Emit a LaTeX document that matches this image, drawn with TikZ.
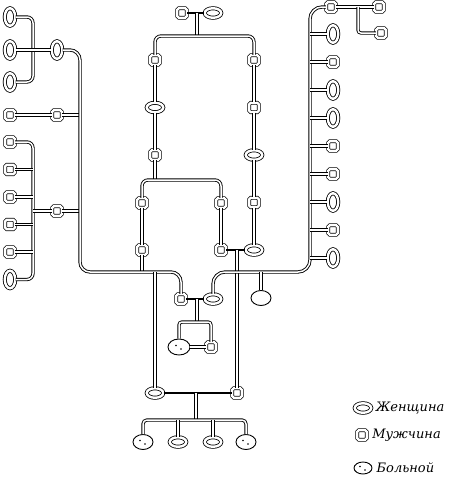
\documentclass[tikz,border=0pt]{standalone}
\usepackage{fontspec}
\setmainfont{DejaVu Serif}
\usepackage{tikz}
\usetikzlibrary{shapes,positioning}
\tikzstyle{link} = [draw, line width=0.9pt, double, double distance=1.5pt, rounded corners=6pt]
\tikzstyle{marriage} = [line width=2.6pt]
\tikzstyle{man} = [rectangle, rounded corners=1.5pt, draw, line width=0.8pt, double, double distance=2.2pt, minimum size=9.5pt, inner sep=0pt]
\tikzstyle{woman} = [ellipse, draw, line width=0.8pt, double, double distance=2.4pt, minimum width=16.5pt, minimum height=9.5pt, inner sep=0pt]
\tikzstyle{womanup} = [woman, minimum width=10.5pt, minimum height=17.5pt]
\tikzstyle{oval} = [ellipse, draw, line width=0.9pt, minimum width=20pt, minimum height=15pt, inner sep=0pt]
\tikzstyle{sick} = [oval, path picture={\fill (path picture bounding box.center) +(-3pt,1.5pt) circle (0.9pt) +(2pt,-2pt) circle (0.9pt);}]
\tikzstyle{legend} = [font=\fontsize{13}{15}\selectfont\itshape, inner sep=0pt]

\begin{document}
\begin{tikzpicture}[x=1pt, y=-1pt, node distance=28pt]
\useasboundingbox (0,0) rectangle (450,477);
% Left family
\node (lw1) [womanup] at (10,17) {};
\node (lw2) [womanup] at (10,50) {};
\node (lw3) [womanup] at (10,82) {};
\node (lwa) [womanup] at (57,50) {};
\node (lm1) [man] at (10,115) {};
\node (lma) [man] at (57,115) {};
\node (lm2) [man] at (10,142) {};
\node (lm3) [man, below of=lm2, node distance=27.5pt] {};
\node (lm4) [man, below of=lm3, node distance=27.5pt] {};
\node (lm5) [man, below of=lm4, node distance=27.5pt] {};
\node (lm6) [man, below of=lm5, node distance=27.5pt] {};
\node (lw4) [womanup, below of=lm6, node distance=27.5pt] {};
\node (lmb) [man] at (57,211) {};
\coordinate (j1) at (33,50);
\coordinate (j2) at (80,115);
\coordinate (j3) at (33,211);
\coordinate (j4) at (80,211);
\coordinate (lc) at (80,272);

\draw[link] (lw1) -| (j1) |- (lw3);
\draw[link] (lw2) -- (lwa);
\draw[link] (lm1) -- (lma) -- (j2);
\draw[link] (lm2) -| (j3) |- (lw4);
\draw[link] (lm3) -- (lm3 -| j3);
\draw[link] (lm4) -- (lm4 -| j3);
\draw[link] (lm5) -- (lm5 -| j3);
\draw[link] (lm6) -- (lm6 -| j3);
\draw[link] (j3) -- (lmb) -- (j4);

% Top couple and two lines of descent
\node (tm) [man] at (182,13) {};
\node (tw) [woman] at (213,13) {};
\coordinate (tj) at (197,13);
\coordinate (tk) at (197,36);
\node (a1) [man] at (155,60) {};
\node (a2) [woman, below of=a1, node distance=47.5pt] {};
\node (a3) [man, below of=a2, node distance=47.5pt] {};
\node (b1) [man] at (254,60) {};
\node (b2) [man, below of=b1, node distance=47.5pt] {};
\node (b3) [woman, below of=b2, node distance=47.5pt] {};
\node (b4) [man, below of=b3, node distance=47.5pt] {};
\node (b5) [woman, below of=b4, node distance=47.5pt] {};
\coordinate (ak) at (155,180);
\node (c1) [man] at (142,203) {};
\node (c2) [man] at (142,250) {};
\node (d1) [man] at (221,203) {};
\node (d2) [man] at (221,250) {};
\coordinate (dj) at (237,250);

\draw[marriage] (tm) -- (tw);
\draw[link] (tj) -- (tk);
\draw[link] (a1) |- (tk) -| (b1);
\draw[link] (a1) -- (a2) -- (a3);
\draw[link] (b1) -- (b2) -- (b3) -- (b4) -- (b5);
\draw[link] (a3) -- (ak);
\draw[link] (c1) |- (ak) -| (d1);
\draw[link] (c1) -- (c2);
\draw[link] (d1) -- (d2);
\draw[link] (c2) -- (c2 |- lc);
\draw[marriage] (d2) -- (b5);

% Lower couples
\node (mc1) [man] at (181,299) {};
\node (mc2) [woman] at (213,299) {};
\coordinate (mj) at (197,299);
\coordinate (mk) at (197,322);
\node (s1) [sick, minimum width=22pt, minimum height=16pt] at (179,347) {};
\node (s2) [man] at (211,347) {};
\node (ux) [oval] at (261,298) {};
\coordinate (rc) at (310,272);
\node (bw) [woman] at (155,393) {};
\node (bm) [man] at (237,393) {};
\coordinate (bj) at (196,393);
\coordinate (bk) at (196,420);
\node (k1) [sick] at (143,442) {};
\node (k2) [woman] at (178,442) {};
\node (k3) [woman] at (213,442) {};
\node (k4) [sick] at (246,442) {};

\draw[link, rounded corners=10pt] (lwa) -| (lc) -| (mc1);
\draw[marriage] (mc1) -- (mc2);
\draw[link] (mj) -- (mk);
\draw[link, rounded corners=3pt] (s1) |- (mk) -| (s2);
\draw[link] (s1) -- (s2);
\draw[link] (bw) -- (bw |- lc);
\draw[link] (dj) -- (bm);
\draw[marriage] (bw) -- (bm);
\draw[link] (bj) -- (bk);
\draw[link, rounded corners=4pt] (k1) |- (bk) -| (k4);
\draw[link] (k2) -- (k2 |- bk);
\draw[link] (k3) -- (k3 |- bk);

% Right family
\node (rm0) [man] at (331,7) {};
\node (rm1) [man] at (379,7) {};
\node (rm2) [man] at (381,33) {};
\coordinate (rj) at (358,7);
\node (r1) [womanup] at (333,34) {};
\node (r2) [man, below of=r1] {};
\node (r3) [womanup, below of=r2] {};
\node (r4) [womanup, below of=r3] {};
\node (r5) [man, below of=r4] {};
\node (r6) [man, below of=r5] {};
\node (r7) [womanup, below of=r6] {};
\node (r8) [man, below of=r7] {};
\node (r9) [womanup, below of=r8] {};

\draw[link] (rm0) -- (rm1);
\draw[link, rounded corners=3pt] (rj) |- (rm2);
\draw[link, rounded corners=12pt] (rm0) -| (rc) -| (mc2);
\draw[link] (r1) -- (r1 -| rc);
\draw[link] (r2) -- (r2 -| rc);
\draw[link] (r3) -- (r3 -| rc);
\draw[link] (r4) -- (r4 -| rc);
\draw[link] (r5) -- (r5 -| rc);
\draw[link] (r6) -- (r6 -| rc);
\draw[link] (r7) -- (r7 -| rc);
\draw[link] (r8) -- (r8 -| rc);
\draw[link] (r9) -- (r9 -| rc);
\draw[link] (ux) -- (ux |- rc);

% Legend
\node (lg1) [woman] at (363,408) {};
\node (lg2) [man] at (362,435) {};
\node (lg3) [sick, minimum width=18pt, minimum height=12pt] at (363,468) {};
\node (lt1) [legend, right=4pt of lg1] {Женщина};
\node (lt2) [legend, right=5pt of lg2] {Мужчина};
\node (lt3) [legend, right=4pt of lg3] {Больной};
\end{tikzpicture}
\end{document}
